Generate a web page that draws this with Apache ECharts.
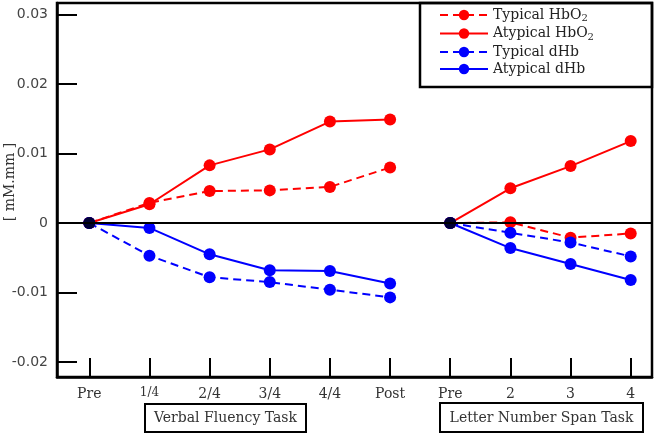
<!DOCTYPE html>
<html>
<head>
<meta charset="utf-8">
<script src="https://cdn.jsdelivr.net/npm/echarts@6/dist/echarts.min.js"></script>
<style>html,body{margin:0;padding:0;background:#fff}#c{width:657px;height:436px}</style>
</head>
<body>
<div id="c"></div>
<script>
// ---- data ----
const categories = ['Pre', '1/4', '2/4', '3/4', '4/4', 'Post', 'Pre', '2', '3', '4'];
const vfStart = 0;   // Verbal Fluency Task occupies categories 0..5
const lnStart = 6;   // Letter Number Span Task occupies categories 6..9

const typicalHbO2_VF  = [0, 0.0029, 0.0046, 0.0047, 0.0052, 0.0080];
const atypicalHbO2_VF = [0, 0.0027, 0.0083, 0.0106, 0.0146, 0.0149];
const typicalHb_VF    = [0, -0.0047, -0.0078, -0.0085, -0.0096, -0.0107];
const atypicalHb_VF   = [0, -0.0007, -0.0045, -0.0068, -0.0069, -0.0087];

const typicalHbO2_LN  = [0, 0.0001, -0.0021, -0.0015];
const atypicalHbO2_LN = [0, 0.0050, 0.0082, 0.0118];
const typicalHb_LN    = [0, -0.0014, -0.0028, -0.0048];
const atypicalHb_LN   = [0, -0.0036, -0.0059, -0.0082];

const baselineIdx = [0, 6];
const baselineVal = [0, 0];

const yTickValues = [-0.02, -0.01, 0, 0.01, 0.02, 0.03];
const yTickLabels = ['-0.02', '-0.01', '0', '0.01', '0.02', '0.03'];

const seriesNames = ['Typical HbO2', 'Atypical HbO2', 'Typical dHb', 'Atypical dHb'];
const taskNames = ['Verbal Fluency Task', 'Letter Number Span Task'];
const yAxisName = '[ mM.mm ]';

// ---- build ----
const toXY = (arr, start) => arr.map((v, i) => [start + i, v]);
const RED = '#ff0000', BLUE = '#0000ff';
const styles = [
  {color: RED, type: [8, 5]},
  {color: RED, type: 'solid'},
  {color: BLUE, type: [8, 5]},
  {color: BLUE, type: 'solid'}
];
const vfSets = [typicalHbO2_VF, atypicalHbO2_VF, typicalHb_VF, atypicalHb_VF];
const lnSets = [typicalHbO2_LN, atypicalHbO2_LN, typicalHb_LN, atypicalHb_LN];

const series = [];
seriesNames.forEach((name, k) => {
  [[vfSets[k], vfStart], [lnSets[k], lnStart]].forEach(([arr, st]) => {
    series.push({
      name: name,
      type: 'line',
      data: toXY(arr, st),
      symbol: 'circle',
      symbolSize: 12,
      showSymbol: true,
      itemStyle: {color: styles[k].color},
      lineStyle: {color: styles[k].color, width: 2, type: styles[k].type},
      z: 3
    });
  });
});
// zero reference line
series.push({
  type: 'line', data: [], silent: true,
  markLine: {
    silent: true, symbol: 'none', label: {show: false},
    lineStyle: {color: '#000', width: 2, type: 'solid'},
    data: [{yAxis: 0}]
  },
  z: 2
});
// black baseline dots
series.push({
  type: 'scatter',
  data: baselineIdx.map((x, i) => [x, baselineVal[i]]),
  symbol: 'circle', symbolSize: 12,
  itemStyle: {color: '#000'},
  z: 10
});

const serif = 'DejaVu Serif';
const chart = echarts.init(document.getElementById('c'), null, {renderer: 'canvas'});
chart.setOption({
  animation: false,
  backgroundColor: '#fff',
  grid: {left: 57, top: 3, right: 5, bottom: 59, show: true, borderColor: '#000', borderWidth: 2.5, containLabel: false},
  xAxis: {
    type: 'value', min: -0.537, max: 9.354,
    axisLine: {show: true, onZero: false, lineStyle: {color: '#000', width: 2.5}},
    axisTick: {show: true, inside: true, length: 19, lineStyle: {color: '#000', width: 2}, customValues: categories.map((c, i) => i)},
    axisLabel: {
      customValues: categories.map((c, i) => i), margin: 10,
      fontFamily: serif, fontSize: 14, color: '#333',
      formatter: v => { const s = categories[Math.round(v)]; return s === '1/4' ? '{s|' + s + '}' : s; },
      rich: {s: {fontFamily: serif, fontSize: 12, color: '#333'}}
    },
    splitLine: {show: false}
  },
  yAxis: {
    type: 'value', min: -0.02216, max: 0.03167,
    axisLine: {show: true, onZero: false, lineStyle: {color: '#000', width: 2.5}},
    axisTick: {show: true, inside: true, length: 20, lineStyle: {color: '#000', width: 2}, customValues: yTickValues},
    axisLabel: {
      customValues: yTickValues, margin: 9,
      fontFamily: 'DejaVu Sans', fontSize: 14, color: '#444',
      formatter: v => { const i = yTickValues.findIndex(t => Math.abs(t - v) < 1e-9); return i >= 0 ? yTickLabels[i] : ''; }
    },
    splitLine: {show: false}
  },
  legend: {
    data: seriesNames,
    orient: 'vertical', left: 439, top: 8, padding: 0,
    itemWidth: 48, itemHeight: 13, itemGap: 3,
    selectedMode: false,
    formatter: n => n.indexOf('HbO2') >= 0 ? n.replace('HbO2', 'HbO{sub|2}') : n,
    textStyle: {
      fontFamily: serif, fontSize: 14, color: '#222',
      rich: {sub: {fontFamily: serif, fontSize: 10, color: '#222', verticalAlign: 'bottom', padding: [7, 0, 0, 0]}}
    }
  },
  graphic: [
    {type: 'rect', shape: {x: 420, y: 3, width: 232, height: 84}, style: {fill: 'none', stroke: '#000', lineWidth: 2.5}, z: 1, silent: true},
    {type: 'rect', shape: {x: 145, y: 404, width: 161, height: 28}, style: {fill: 'none', stroke: '#000', lineWidth: 2}, silent: true},
    {type: 'text', x: 225.5, y: 418, style: {text: taskNames[0], font: '14px "DejaVu Serif"', fill: '#333', align: 'center', verticalAlign: 'middle'}, silent: true},
    {type: 'rect', shape: {x: 440, y: 403, width: 203, height: 29}, style: {fill: 'none', stroke: '#000', lineWidth: 2}, silent: true},
    {type: 'text', x: 541.5, y: 418, style: {text: taskNames[1], font: '14px "DejaVu Serif"', fill: '#333', align: 'center', verticalAlign: 'middle'}, silent: true},
    {type: 'text', x: 10, y: 182, rotation: Math.PI / 2, style: {text: yAxisName, font: '14px "DejaVu Serif"', fill: '#333', align: 'center', verticalAlign: 'middle'}, silent: true}
  ],
  series: series
});
</script>
</body>
</html>
